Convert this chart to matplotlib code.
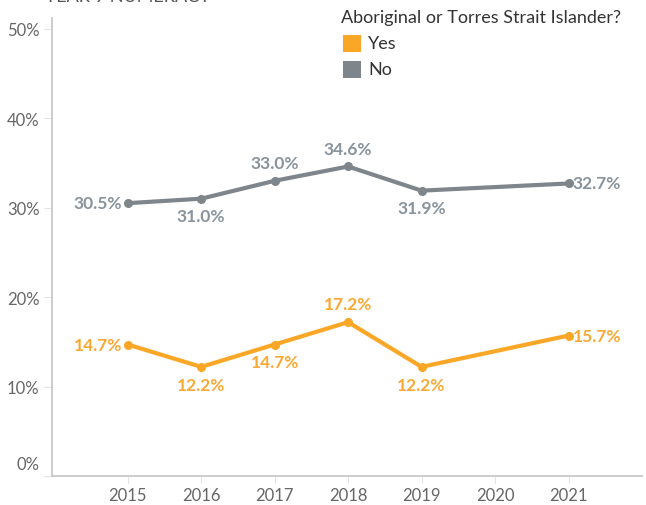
import matplotlib
matplotlib.use("Agg")
import matplotlib.pyplot as plt
from matplotlib.patches import Rectangle
import matplotlib.transforms as mtransforms

years = [2015, 2016, 2017, 2018, 2019, 2021]
yes_vals = [14.7, 12.2, 14.7, 17.2, 12.2, 15.7]
no_vals = [30.5, 31.0, 33.0, 34.6, 31.9, 32.7]
xtick_years = [2015, 2016, 2017, 2018, 2019, 2020, 2021]
yticks = [0, 10, 20, 30, 40, 50]
yes_pos = ["left", "below", "below", "above", "below", "right"]
no_pos = ["left", "below", "above", "above", "below", "right"]

ORANGE = "#FAA728"
GRAY = "#7E868B"
ORANGE_TXT = "#F9A932"
GRAY_TXT = "#88939C"
TICK_TXT = "#666666"
AXIS = "#C8C8C8"

plt.rcParams['font.family'] = ['Lato', 'DejaVu Sans']

fig = plt.figure(figsize=(6.46, 5.06), dpi=100)
ax = fig.add_axes([52/646, 1-477/506, 1-52/646-4/646, (477-19)/506])
ax.set_xlim(2013.97, 2022.0)
ax.set_ylim(0, 51.2)

ax.plot(years, no_vals, color=GRAY, lw=3, marker='o', ms=5.5, solid_capstyle='round', zorder=3)
ax.plot(years, yes_vals, color=ORANGE, lw=3, marker='o', ms=5.5, solid_capstyle='round', zorder=3)

def label(xs, vs, poss, col):
    for x, v, p in zip(xs, vs, poss):
        t = f"{v:.1f}%"
        kw = dict(color=col, fontsize=12.5, fontweight='bold', textcoords='offset points')
        if p == "left":
            ax.annotate(t, (x, v), xytext=(-4, 0), ha='right', va='center', **kw)
        elif p == "right":
            ax.annotate(t, (x, v), xytext=(3, 0), ha='left', va='center', **kw)
        elif p == "above":
            ax.annotate(t, (x, v), xytext=(0, 7), ha='center', va='bottom', **kw)
        else:
            ax.annotate(t, (x, v), xytext=(0, -7), ha='center', va='top', **kw)

label(years, no_vals, no_pos, GRAY_TXT)
label(years, yes_vals, yes_pos, ORANGE_TXT)

for s in ['top', 'right']:
    ax.spines[s].set_visible(False)
for s in ['left', 'bottom']:
    ax.spines[s].set_color(AXIS)
    ax.spines[s].set_linewidth(1.3)

ax.set_xticks(xtick_years)
ax.set_xticklabels([str(y) for y in xtick_years])
ax.set_yticks(yticks)
ax.set_yticklabels([f"{v}%" for v in yticks])
ax.tick_params(axis='x', length=5, color="#E3E3E3", labelsize=12, labelcolor=TICK_TXT, pad=3)
ax.tick_params(axis='y', length=6, color="#E3E3E3", labelsize=12, labelcolor=TICK_TXT, pad=3)
# shift the 0% label up like the reference
lab0 = ax.get_yticklabels()[0]
lab0.set_transform(lab0.get_transform() + mtransforms.ScaledTranslation(0, 13/100, fig.dpi_scale_trans))

# cropped title at top (cut off in the reference too)
fig.text(45/646, 1-2/506, "YEAR 9 NUMERACY", fontsize=13, color="#555555", va='baseline', ha='left')

# legend
fig.text(341/646, 1-18/506, "Aboriginal or Torres Strait Islander?", fontsize=13, color="#333333", va='center', ha='left')
for i, (name, col) in enumerate([("Yes", ORANGE), ("No", GRAY)]):
    yc = 44 + i*26
    fig.patches.append(Rectangle((343/646, 1-(yc+9)/506), 18/646, 17/506, transform=fig.transFigure,
                                 facecolor=col, edgecolor='none'))
    fig.text(368/646, 1-yc/506, name, fontsize=13, color="#333333", va='center', ha='left')

fig.savefig("out.png", dpi=100)
